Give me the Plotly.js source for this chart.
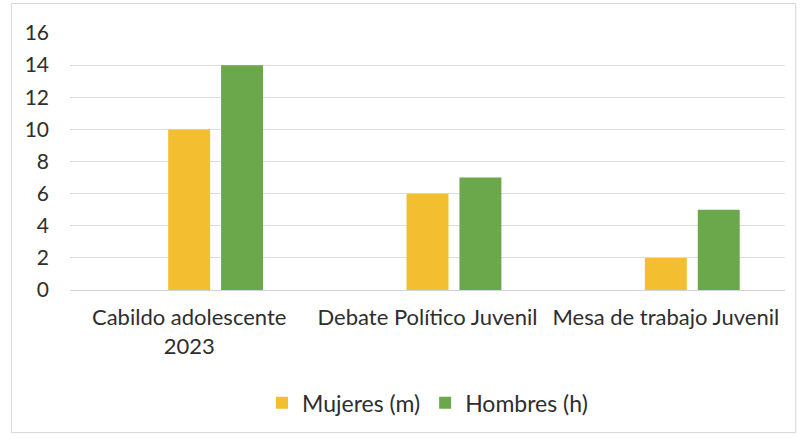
<!DOCTYPE html>
<html>
<head>
<meta charset="utf-8">
<script src="https://cdn.plot.ly/plotly-3.0.1.min.js"></script>
<style>html,body{margin:0;padding:0;background:#fff;}#chart{width:802px;height:438px;}</style>
</head>
<body>
<div id="chart"></div>
<script>
const categories = ["Cabildo adolescente<br>2023", "Debate Político Juvenil", "Mesa de trabajo Juvenil"];
const mujeres = [10, 6, 2];
const hombres = [14, 7, 5];
const seriesNames = ["Mujeres (m)", "Hombres (h)"];

const fam = "Lato, 'Open Sans', sans-serif";
const txtColor = "#2e2e2e";

const traces = [
  {type: "bar", x: categories, y: mujeres, name: seriesNames[0],
   marker: {color: "#F3BE30"}, width: 0.176, offset: -0.088, hoverinfo: "none"},
  {type: "bar", x: categories, y: hombres, name: seriesNames[1],
   marker: {color: "#6BA74B"}, width: 0.176, offset: 0.134, hoverinfo: "none"}
];

const layout = {
  width: 802, height: 438,
  margin: {l: 70, r: 17, t: 33, b: 148},
  paper_bgcolor: "#ffffff", plot_bgcolor: "#ffffff",
  font: {family: fam, size: 21, color: txtColor},
  barmode: "overlay",
  showlegend: true,
  legend: {orientation: "h", x: 0.5, xanchor: "center", y: -0.355, yanchor: "top",
           font: {family: fam, size: 23, color: txtColor}, itemwidth: 30,
           traceorder: "normal"},
  xaxis: {type: "category", showgrid: false, showline: false, ticks: "",
          ticklabelstandoff: 12,
          tickfont: {family: fam, size: 22, color: txtColor}, fixedrange: true},
  yaxis: {range: [0, 16], dtick: 2, showgrid: true, gridcolor: "#dcdde3", gridwidth: 1,
          zeroline: true, zerolinecolor: "#d3d4da", zerolinewidth: 1, showline: false, ticks: "",
          ticklabelstandoff: 20,
          tickfont: {family: fam, size: 21, color: txtColor}, fixedrange: true},
  shapes: [
    {type: "rect", xref: "paper", yref: "paper", x0: -0.082, x1: 1.015, y0: -0.555, y1: 1.115,
     line: {color: "#d6d6d6", width: 1}, fillcolor: "rgba(0,0,0,0)"}
  ]
};

Plotly.newPlot("chart", traces, layout, {displayModeBar: false, staticPlot: true});
</script>
</body>
</html>
